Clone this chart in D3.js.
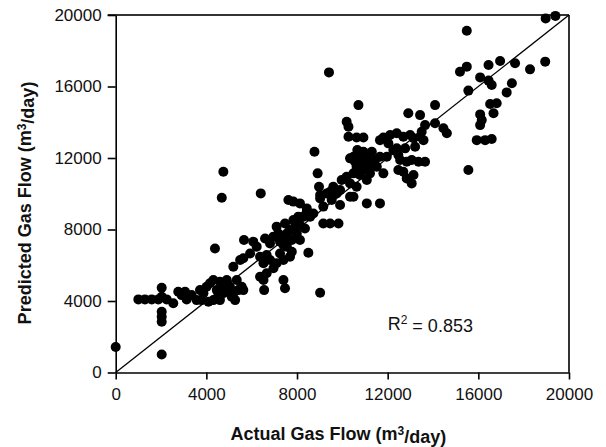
<!DOCTYPE html>
<html>
<head>
<meta charset="utf-8">
<script src="https://cdn.jsdelivr.net/npm/d3@7"></script>
<style>
  body { margin: 0; background: #fff; }
  text { font-family: "Liberation Sans", Arial, sans-serif; fill: #111; }
</style>
</head>
<body>
<div id="chart"></div>
<script>
// Actual vs predicted gas flow (m3/day)
const actualFlow = [
  9410, 15190, 15490, 16450, 16960, 17620, 18280, 18950, 16080, 16450,
  16590, 17480, 17250, 15560, 18970, 19400, 15490, 10710, 14090, 16520,
  16810, 16670, 16080, 16150, 16080, 12910, 13430, 13650, 14090, 14460,
  14610, 10190, 10270, 10270, 10630, 10930, 11810, 12110, 12400, 12690,
  12990, 13140, 13430, 13500, 13580, 11660, 15930, 16300, 16590, 12770,
  12400, 13210, 12470, 8770, 10660, 10930, 11300, 11080, 10340, 10780,
  10630, 10930, 11150, 11370, 11660, 11960, 11520, 11810, 11220, 11080,
  10490, 10190, 10340, 9970, 10780, 10930, 12550, 12840, 13060, 13360,
  13650, 12470, 12690, 12840, 13060, 13140, 15560, 4750, 4680, 8910,
  8970, 9600, 9460, 9020, 9900, 10630, 10490, 6400, 7620, 7840,
  8130, 8430, 8720, 8580, 8280, 9020, 9160, 9530, 9900, 10340,
  11080, 11660, 9160, 9460, 9830, 8060, 7840, 7910, 7690, 7470,
  7100, 8130, 7990, 8350, 7550, 7400, 7770, 8130, 7180, 6960,
  6810, 4380, 5660, 6070, 6590, 6220, 5930, 5490, 5630, 5190,
  6370, 6660, 6520, 6810, 7250, 7100, 6960, 7400, 7690, 7770,
  7400, 7550, 7250, 8500, 6370, 6660, 6520, 7400, 7470, 6550,
  9020,
  // low band near 4000
  1000, 1290, 1590, 1880, 2030, 2030, 2250, 2540, 2760, 2910,
  3060, 3130, 3350, 3570, 3870, 4010, 4160, 4310, 4460, 4600,
  4750, 4900, 5040, 5190, 5340, 5410, 5560, 5630, 4310, 4090,
  3790, 4530, 4900, 5120, 5270, 2030, 2030, 2030, 2030, 0,
  // extra points inside the dense cluster
  10850, 10560, 11220, 11440, 10490, 12250, 12030, 9310, 9750, 8430,
  3720, 4750, 4600
];

const predictedFlow = [
  16790, 16830, 17110, 17200, 17430, 17300, 16960, 17390, 16510, 16330,
  16080, 16180, 15670, 15770, 19810, 19950, 19120, 14960, 14960, 15020,
  15060, 14500, 14440, 14120, 13840, 14500, 14400, 13840, 13940, 13660,
  13380, 14030, 13750, 13190, 13150, 13150, 13150, 13290, 13380, 13190,
  13290, 13100, 13190, 13470, 13000, 13000, 13000, 13000, 13060, 12540,
  12540, 12630, 12170, 12350, 12450, 12350, 12350, 12070, 11980, 11890,
  11510, 11510, 11790, 11700, 12070, 12070, 11510, 11140, 11140, 10770,
  11140, 10950, 10580, 10770, 11050, 11330, 11890, 11790, 11890, 11790,
  11790, 11330, 11230, 10860, 10580, 11050, 11330, 11230, 9780, 11140,
  10390, 10390, 10110, 9930, 10210, 10390, 9830, 10020, 9650, 9560,
  9460, 9180, 8900, 8720, 8720, 9740, 9280, 9650, 9370, 9830,
  9460, 9460, 8340, 8340, 8340, 8720, 8530, 8160, 7970, 8340,
  8160, 8250, 7780, 8060, 7780, 7410, 7410, 7410, 7780, 7600,
  7220, 6940, 7410, 7320, 7500, 7040, 6660, 6290, 6390, 5920,
  6480, 6570, 6110, 6290, 6660, 6110, 5830, 6290, 6480, 6760,
  7130, 7040, 7320, 6700, 5360, 5550, 5170, 5170, 4710, 4610,
  4460,
  4090, 4090, 4090, 4090, 4740, 4240, 4090, 3870, 4520, 4330,
  4520, 4090, 4330, 4050, 4430, 4800, 4990, 5170, 4610, 4050,
  4430, 5170, 4800, 4430, 5170, 4610, 4800, 4610, 4050, 3960,
  4050, 4240, 4610, 4240, 4050, 3400, 3120, 2840, 1010, 1430,
  12170, 11790, 11510, 11890, 12070, 12450, 12820, 10020, 10020, 9000,
  4610, 4890, 5080
];

const xTicks = [0, 4000, 8000, 12000, 16000, 20000];
const yTicks = [0, 4000, 8000, 12000, 16000, 20000];
const r2Label = "0.853";

const points = actualFlow.map((a, i) => ({ actual: a, predicted: predictedFlow[i] }));

// SVG
const svg = d3.select("#chart").append("svg")
    .attr("width", 606)
    .attr("height", 447);

const margin = { top: 15, right: 37, bottom: 74.5, left: 115.7 };
const width = +svg.attr("width") - margin.left - margin.right;
const height = +svg.attr("height") - margin.top - margin.bottom;

const chart = svg.append("g")
    .attr("transform", `translate(${margin.left},${margin.top})`);

const x = d3.scaleLinear().domain([0, 20000]).range([0, width]);
const y = d3.scaleLinear().domain([0, 20000]).range([height, 0]);

// top and right frame lines
chart.append("line")
    .attr("x1", x(0) - 8).attr("x2", x(20000))
    .attr("y1", y(20000)).attr("y2", y(20000))
    .attr("stroke", "#333").attr("stroke-width", 2);
chart.append("line")
    .attr("x1", x(20000)).attr("x2", x(20000))
    .attr("y1", y(0)).attr("y2", y(20000))
    .attr("stroke", "#333").attr("stroke-width", 2);

// 1:1 line
chart.append("line")
    .attr("x1", x(0)).attr("y1", y(0))
    .attr("x2", x(20000)).attr("y2", y(20000))
    .attr("stroke", "#000")
    .attr("stroke-width", 1.3);

// axes
const xAxis = chart.append("g")
    .attr("transform", `translate(0,${height})`)
    .call(d3.axisBottom(x).tickValues(xTicks).tickFormat(d3.format("d"))
        .tickSize(7).tickPadding(8).tickSizeOuter(0));

const yAxis = chart.append("g")
    .call(d3.axisLeft(y).tickValues(yTicks).tickFormat(d3.format("d"))
        .tickSize(8).tickPadding(6).tickSizeOuter(0));

[xAxis, yAxis].forEach(ax => {
    ax.select(".domain").attr("stroke", "#000").attr("stroke-width", 1.6);
    ax.selectAll(".tick line").attr("stroke", "#000").attr("stroke-width", 1.6);
    ax.selectAll(".tick text")
        .style("font-family", '"Liberation Sans", Arial, sans-serif')
        .style("font-size", "17px")
        .attr("fill", "#111");
});

// points
chart.selectAll("circle")
    .data(points)
    .enter()
    .append("circle")
    .attr("cx", d => x(d.actual))
    .attr("cy", d => y(d.predicted))
    .attr("r", 5)
    .attr("fill", "#000");

// R^2 label
const r2 = chart.append("text")
    .attr("x", x(12000))
    .attr("y", y(2400))
    .style("font-size", "18px");
r2.append("tspan").text("R");
r2.append("tspan").attr("dy", "-0.45em").style("font-size", "12px").text("2");
r2.append("tspan").attr("dy", "0.45em").text(` = ${r2Label}`);

// axis title helper with superscript 3
function title(sel, before, sup, after) {
    sel.append("tspan").text(before);
    sel.append("tspan").attr("dy", "-0.45em").style("font-size", "12px").text(sup);
    sel.append("tspan").attr("dy", "0.45em").text(after);
}

const xTitle = svg.append("text")
    .attr("x", margin.left + width / 2 - 4)
    .attr("y", 440)
    .attr("text-anchor", "middle")
    .style("font-size", "18px")
    .style("font-weight", "bold");
title(xTitle, "Actual Gas Flow (m", "3", "/day)");

const yTitle = svg.append("text")
    .attr("transform", "rotate(-90)")
    .attr("x", -203)
    .attr("y", 31)
    .attr("text-anchor", "middle")
    .style("font-size", "18px")
    .style("font-weight", "bold");
title(yTitle, "Predicted Gas Flow (m", "3", "/day)");
</script>
</body>
</html>
